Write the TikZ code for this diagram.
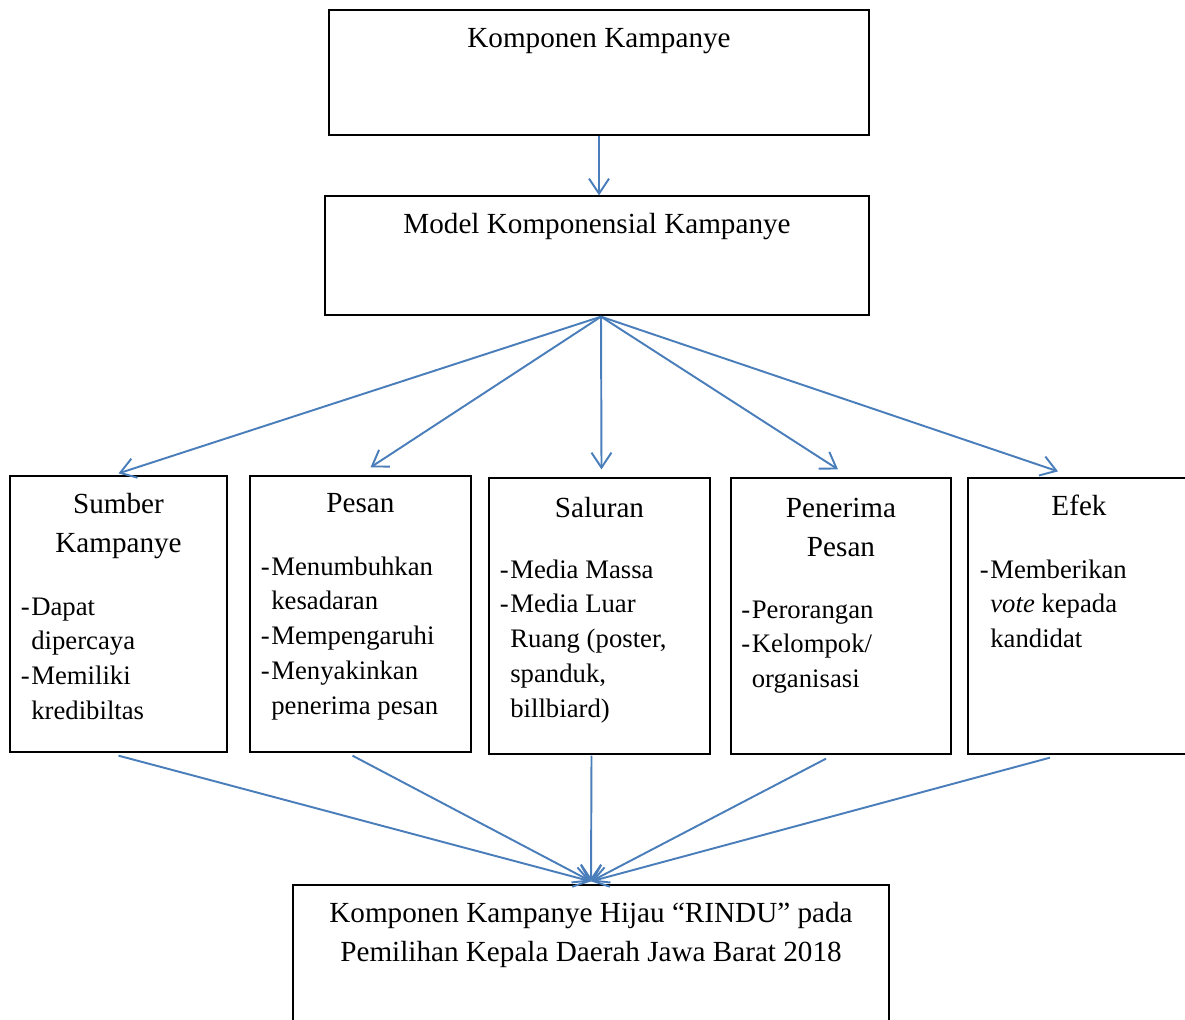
\documentclass[tikz,border=0pt]{standalone}
\usepackage{fontspec}
\setmainfont{Liberation Serif}
\usetikzlibrary{arrows.meta,calc}
\definecolor{garis}{RGB}{74,126,187}
\newcommand{\isi}{\fontsize{16.6pt}{19.9pt}\selectfont}
\newcommand{\butir}{\fontsize{15.2pt}{19.9pt}\selectfont}
\newcommand{\judul}{\fontsize{16.6pt}{22.2pt}\selectfont}

\begin{document}
\begin{tikzpicture}[x=0.02cm,y=-0.02cm] \tikzset{>={Straight Barb[length=3mm,width=4mm]}, kotak/.style={draw,line width=0.75pt,inner sep=0pt}, panah/.style={->,line width=1.1pt,garis}, daftar/.style={anchor=base west,inner sep=0pt,font=\butir}}
\useasboundingbox (0,0) rectangle (1185,1019);
\clip (0,0) rectangle (1185,1019);
\node[kotak,minimum width=10.8cm,minimum height=2.5cm] (komp) at (599,72.5) {};
\node[kotak,minimum width=10.88cm,minimum height=2.38cm] (model) at (597,255.5) {};
\node[kotak,minimum width=4.34cm,minimum height=5.52cm] (sumber) at (118.5,614) {};
\node[kotak,minimum width=4.42cm,minimum height=5.52cm] (pesan) at (360.5,614) {};
\node[kotak,minimum width=4.42cm,minimum height=5.52cm] (saluran) at (599.5,616) {};
\node[kotak,minimum width=4.4cm,minimum height=5.52cm] (penerima) at (841,616) {};
\node[kotak,minimum width=4.44cm,minimum height=5.52cm] (efek) at (1079,616) {};
\node[kotak,minimum width=11.92cm,minimum height=3.5cm] (hasil) at (591,972.5) {};
\node[anchor=base,font=\isi] (tkomp) at (599,47) {Komponen Kampanye};
\node[anchor=base,font=\isi] (tmodel) at (597,233) {Model Komponensial Kampanye};
\node[anchor=base,font=\judul] (tsumber) at (118.5,513) {\begin{tabular}[t]{@{}c@{}}Sumber\\Kampanye\end{tabular}};
\node[anchor=base,font=\judul] (tpesan) at (360.5,512) {Pesan};
\node[anchor=base,font=\judul] (tsaluran) at (599.5,517) {Saluran};
\node[anchor=base,font=\judul] (tpenerima) at (841,517) {\begin{tabular}[t]{@{}c@{}}Penerima\\Pesan\end{tabular}};
\node[anchor=base,font=\judul] (tefek) at (1079,515) {Efek};
\node[daftar] (dsumber) at (20.5,615) {\begin{tabular}[t]{@{}p{0.21cm}@{}l@{}}-&Dapat\\&dipercaya\\-&Memiliki\\&kredibiltas\end{tabular}};
\node[daftar] (dpesan) at (260.5,575) {\begin{tabular}[t]{@{}p{0.21cm}@{}l@{}}-&Menumbuhkan\\&kesadaran\\-&Mempengaruhi\\-&Menyakinkan\\&penerima pesan\end{tabular}};
\node[daftar] (dsaluran) at (499.5,578) {\begin{tabular}[t]{@{}p{0.21cm}@{}l@{}}-&Media Massa\\-&Media Luar\\&Ruang (poster,\\&spanduk,\\&billbiard)\end{tabular}};
\node[daftar] (dpenerima) at (741,618) {\begin{tabular}[t]{@{}p{0.21cm}@{}l@{}}-&Perorangan\\-&Kelompok/\\&organisasi\end{tabular}};
\node[daftar] (defek) at (979.5,578) {\begin{tabular}[t]{@{}p{0.21cm}@{}l@{}}-&Memberikan\\&\textit{vote} kepada\\&kandidat\end{tabular}};
\node[anchor=base,font=\judul] (thasil) at (591,922) {\begin{tabular}[t]{@{}c@{}}Komponen Kampanye Hijau “RINDU” pada\\[0.5pt]Pemilihan Kepala Daerah Jawa Barat 2018\end{tabular}};
\draw[panah] (komp.south) -- (komp.south |- model.north);
\coordinate (pusat) at ($(model.south)+(4,1)$);
\draw[panah] (pusat) -- ($(sumber.north)+(0,-2)$);
\draw[panah] (pusat) -- ($(pesan.north)+(10,-8)$);
\draw[panah] (pusat) -- ($(saluran.north)+(2,-8)$);
\draw[panah] (pusat) -- ($(penerima.north)+(-3,-8)$);
\draw[panah] (pusat) -- ($(efek.north)+(-21,-6)$);
\coordinate (temu) at ($(hasil.north)+(0,-3)$);
\draw[panah] ($(sumber.south)+(0,3)$) -- (temu);
\draw[panah] ($(pesan.south)+(-8,3)$) -- (temu);
\draw[panah] ($(saluran.south)+(-8,1)$) -- (temu);
\draw[panah] ($(penerima.south)+(-15,4)$) -- (temu);
\draw[panah] ($(efek.south)+(-29,3)$) -- (temu);
\end{tikzpicture}
\end{document}
